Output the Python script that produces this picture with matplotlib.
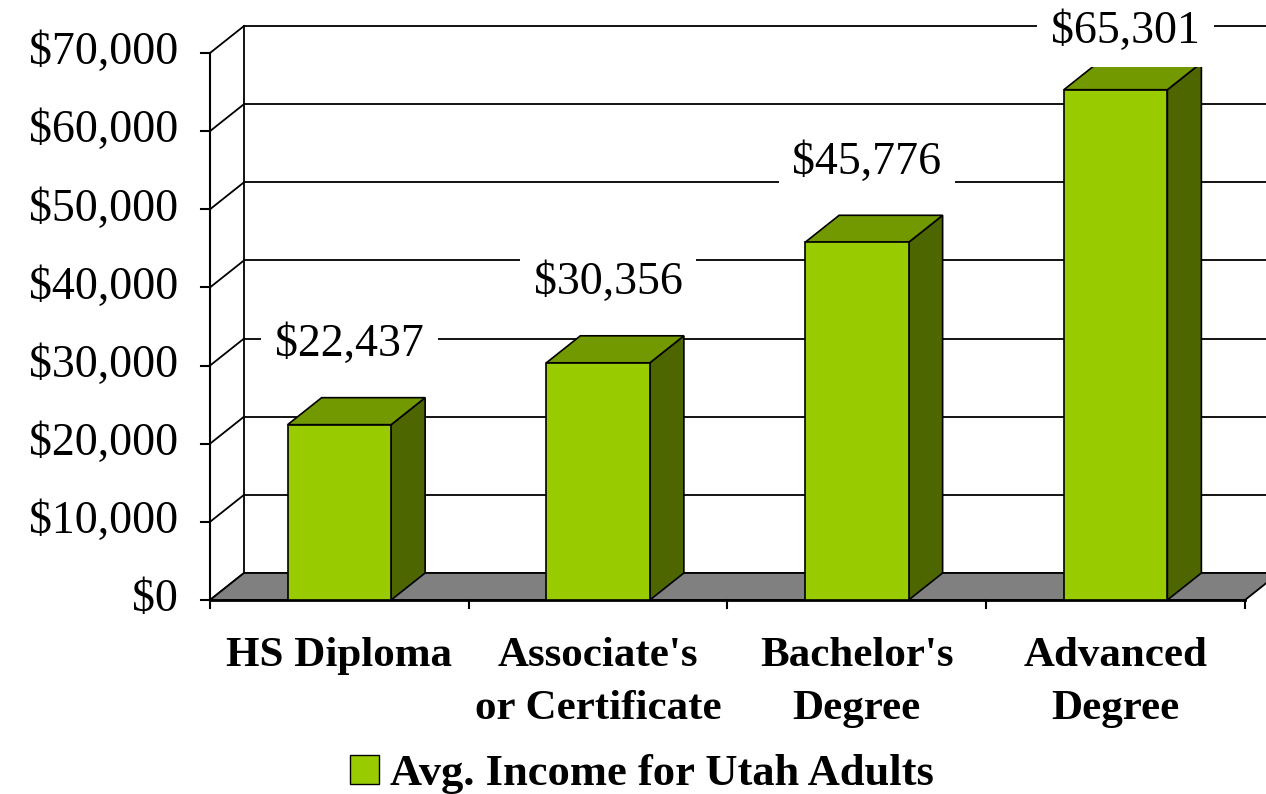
import numpy as np
import matplotlib
matplotlib.use("Agg")
import matplotlib.pyplot as plt
from matplotlib.patches import Polygon, Patch

# ---------------------- Data ----------------------
categories = ["HS Diploma", "Associate's\nor Certificate", "Bachelor's\nDegree", "Advanced\nDegree"]
income = [22437, 30356, 45776, 65301]
series_name = "Avg. Income for Utah Adults"
y_ticks = [0, 10000, 20000, 30000, 40000, 50000, 60000, 70000]

# ---------------------- Style ----------------------
FRONT = "#99CC00"
TOP = "#739900"
SIDE = "#4D6600"
FLOOR = "#808080"
FONT = "Liberation Serif"

W, H = 1266, 794
fig = plt.figure(figsize=(W / 100, H / 100), dpi=100)
ax = fig.add_axes([210 / W, 1 - 600 / H, (1245 - 210) / W, (600 - 53) / H])
ax.set_xlim(-0.5, len(categories) - 0.5)
ax.set_ylim(0, 70000)
ax.axis("off")

# pixel scales, used for the fake 3D depth
px_x = (1245 - 210) / len(categories)   # px per category
px_y = (600 - 53) / 70000               # px per dollar
dx = 34 / px_x
dy = 27 / px_y
x0, x1 = -0.5, len(categories) - 0.5
bw = 0.40

# back wall gridlines and side wall
for v in y_ticks:
    ax.plot([x0 + dx, x1 + dx], [v + dy, v + dy], color="black", lw=1.3, zorder=1, clip_on=False)
    ax.plot([x0, x0 + dx], [v, v + dy], color="black", lw=1.3, zorder=1, clip_on=False)
    ax.plot([x0 - 9 / px_x, x0], [v, v], color="black", lw=1.5, zorder=1, clip_on=False)
    ax.text(x0 - 32 / px_x, v, f"${v:,.0f}", ha="right", va="center",
            fontsize=33, family=FONT, clip_on=False)
ax.plot([x0, x0], [0, 70000], color="black", lw=1.5, zorder=1, clip_on=False)
ax.plot([x0 + dx, x0 + dx], [dy, 70000 + dy], color="black", lw=1.3, zorder=1, clip_on=False)

# floor
floor = Polygon([(x0, 0), (x1, 0), (x1 + dx, dy), (x0 + dx, dy)], closed=True,
                facecolor=FLOOR, edgecolor="black", lw=1.3, zorder=2, clip_on=False)
ax.add_patch(floor)
ax.plot([x0, x1], [0, 0], color="black", lw=2, zorder=3, clip_on=False)
for t in np.arange(x0, x1 + 0.01, 1.0):
    ax.plot([t, t], [0, -8 / px_y], color="black", lw=1.5, zorder=3, clip_on=False)

# bars
for i, v in enumerate(income):
    l, r = i - bw / 2, i + bw / 2
    side = Polygon([(r, 0), (r + dx, dy), (r + dx, v + dy), (r, v)], closed=True,
                   facecolor=SIDE, edgecolor="black", lw=1.2, zorder=4, clip_on=False)
    top = Polygon([(l, v), (r, v), (r + dx, v + dy), (l + dx, v + dy)], closed=True,
                  facecolor=TOP, edgecolor="black", lw=1.2, zorder=4, clip_on=False)
    front = Polygon([(l, 0), (r, 0), (r, v), (l, v)], closed=True,
                    facecolor=FRONT, edgecolor="black", lw=1.2, zorder=5, clip_on=False)
    for p in (side, top, front):
        ax.add_patch(p)
    # label sits ~80 px above the bar top, but never above the figure edge
    lab_y = min(v + 80 / px_y, (600 - 32) / px_y)
    ax.text(i + 10 / px_x, lab_y, f"${v:,.0f}", ha="center", va="center",
            fontsize=33, family=FONT, zorder=6, clip_on=False,
            bbox=dict(boxstyle="square,pad=0.3", facecolor="white", edgecolor="none"))

# category labels
for i, c in enumerate(categories):
    ax.text(i, -4750, c, ha="center", va="top", fontsize=31, fontweight="bold",
            family=FONT, linespacing=1.5, clip_on=False)

fig.legend(handles=[Patch(facecolor=FRONT, edgecolor="black")], labels=[series_name],
           loc="center", bbox_to_anchor=(0.507, 1 - 774 / H), frameon=False,
           prop={"family": FONT, "size": 32, "weight": "bold"},
           handlelength=0.65, handleheight=0.65, handletextpad=0.25,
           borderpad=0, borderaxespad=0)

fig.savefig("out.png", dpi=100)
